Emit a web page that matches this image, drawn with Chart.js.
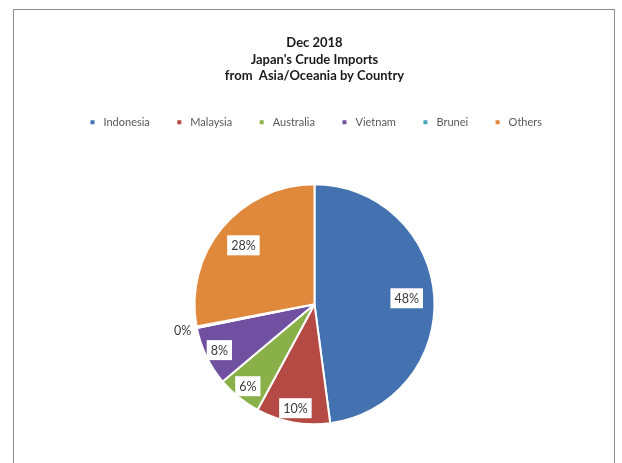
<!DOCTYPE html>
<html>
<head>
<meta charset="utf-8">
<script src="https://cdn.jsdelivr.net/npm/chart.js@4"></script>
<style>
  body { margin: 0; background: #fff; }
  #frame { position: absolute; left: 13px; top: 9px; width: 600px; height: 490px; border: 1px solid #8c8c8c; }
  #frame canvas { display: block; }
</style>
</head>
<body>
<div id="frame"><canvas id="pieChart" width="600" height="478"></canvas></div>
<script>
'use strict'

var countries = ['Indonesia', 'Malaysia', 'Australia', 'Vietnam', 'Brunei', 'Others'];
var shares = [48, 10, 6, 8, 0.2, 28];
var sliceColors = ['#4472b0', '#b54a45', '#8ab04a', '#7050a0', '#4aa3c0', '#e0883c'];
var titleLines = ['Dec 2018', "Japan's Crude Imports", 'from  Asia/Oceania by Country'];

// percent labels in white boxes, like Excel's data labels
var sliceLabels = {
  id: 'sliceLabels',
  afterDatasetsDraw: function (chart) {
    var ctx = chart.ctx;
    var arcs = chart.getDatasetMeta(0).data;
    ctx.save();
    ctx.font = '12.5px Lato, "Open Sans", sans-serif';
    ctx.textAlign = 'center';
    ctx.textBaseline = 'middle';
    arcs.forEach(function (arc, i) {
      var p = arc.getProps(['x', 'y', 'startAngle', 'endAngle', 'outerRadius'], true);
      var mid = (p.startAngle + p.endAngle) / 2;
      var value = shares[i];
      var k = value < 1 ? 1.12 : (value > 20 ? 0.77 : 0.88);
      var lx = p.x + Math.cos(mid) * p.outerRadius * k;
      var ly = p.y + Math.sin(mid) * p.outerRadius * k;
      var text = Math.round(value) + '%';
      if (value >= 1) {
        var w = ctx.measureText(text).width + 8;
        ctx.fillStyle = '#ffffff';
        ctx.fillRect(lx - w / 2, ly - 10, w, 20);
      }
      ctx.fillStyle = '#3a3a3a';
      ctx.fillText(text, lx, ly + 1);
    });
    ctx.restore();
  }
};

var pie = document.getElementById('pieChart');

var pieChart = new Chart(pie, {
  type: 'pie',
  data: {
    labels: countries,
    datasets: [
      {
        data: shares,
        backgroundColor: sliceColors,
        borderColor: '#ffffff',
        borderWidth: 2,
        radius: 120
      }]
  },
  options: {
    responsive: false,
    animation: false,
    layout: { padding: { top: 0, bottom: 17, left: 1, right: 0 } },
    plugins: {
      tooltip: { enabled: false },
      title: {
        display: true,
        text: titleLines,
        color: '#1a1a1a',
        font: { family: 'Lato, "Open Sans", sans-serif', size: 13, weight: 'bold', lineHeight: 1.3 },
        padding: { top: 24, bottom: 8 }
      },
      legend: {
        position: 'top',
        labels: {
          usePointStyle: true,
          pointStyle: 'rect',
          boxWidth: 11,
          boxHeight: 4,
          padding: 24,
          color: '#595959',
          font: { family: 'Lato, "Open Sans", sans-serif', size: 11 },
          generateLabels: function (chart) {
            var items = Chart.overrides.pie.plugins.legend.labels.generateLabels(chart);
            items.forEach(function (item) { item.lineWidth = 0; item.strokeStyle = item.fillStyle; });
            return items;
          }
        }
      }
    }
  },
  plugins: [sliceLabels]
});
</script>
</body>
</html>
